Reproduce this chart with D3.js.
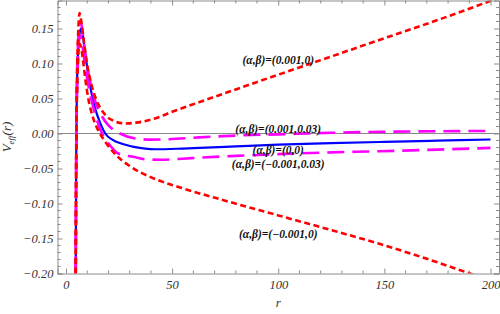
<!DOCTYPE html>
<html>
<head>
<meta charset="utf-8">
<script src="https://cdn.jsdelivr.net/npm/d3@7"></script>
<style>
  body { margin: 0; background: #fff; }
  svg { display: block; }
</style>
</head>
<body>
<div id="chart"></div>
<script>
// values
const rBlue  = [4.6, 4.8, 5.0, 5.3, 5.7, 6.3, 7.0, 7.8, 9, 10.5, 12, 14, 16, 18.5, 22, 26, 32, 42, 55, 63, 80, 100, 125, 150, 175, 200];
const vBlue  = [-0.2, -0.04, 0.03, 0.085, 0.118, 0.14, 0.150, 0.143, 0.115, 0.085, 0.058, 0.033, 0.016, 0.0, -0.009, -0.0143, -0.019, -0.0225, -0.0215, -0.0206, -0.0185, -0.016, -0.0138, -0.012, -0.0102, -0.0086];

const rRedUp = [4.6, 4.8, 5.0, 5.3, 5.7, 6.4, 7.2, 8.5, 10, 12, 14, 16.5, 19, 23, 28, 33, 42, 50, 63, 80, 100, 125, 147, 175, 204];
const vRedUp = [-0.2, -0.03, 0.04, 0.1, 0.14, 0.172, 0.16, 0.13, 0.098, 0.07, 0.05, 0.035, 0.025, 0.0175, 0.0143, 0.0155, 0.0215, 0.031, 0.045, 0.063, 0.084, 0.11, 0.133, 0.162, 0.194];

const rMagUp = [4.6, 4.8, 5.0, 5.3, 5.7, 6.5, 7.3, 8.5, 10, 12, 14, 16.5, 19.9, 22.5, 25.4, 32.5, 40, 48, 63, 80, 100, 125, 150, 175, 200];
const vMagUp = [-0.2, -0.035, 0.035, 0.095, 0.13, 0.16, 0.155, 0.128, 0.095, 0.066, 0.044, 0.027, 0.012, 0.005, 0.0, -0.0071, -0.0088, -0.0082, -0.0055, -0.003, -0.0012, 0.001, 0.0025, 0.0032, 0.0037];

const rMagLo = [4.6, 4.8, 5.0, 5.3, 5.7, 6.5, 7.3, 8.5, 10, 12, 14, 17, 20.7, 24.6, 31.7, 38, 45, 55, 63, 80, 100, 125, 148, 175, 200];
const vMagLo = [-0.2, -0.045, 0.025, 0.075, 0.11, 0.14, 0.135, 0.108, 0.078, 0.048, 0.025, 0.0, -0.0167, -0.0286, -0.0333, -0.037, -0.0375, -0.036, -0.0345, -0.032, -0.0295, -0.027, -0.0253, -0.023, -0.0206];

const rRedLo = [4.6, 4.8, 5.0, 5.3, 5.7, 6.3, 7.0, 8.0, 9, 10.5, 12.5, 14, 16, 19, 23, 29.3, 40.4, 53.7, 75, 100, 125, 148, 170, 190.3, 204];
const vRedLo = [-0.2, -0.05, 0.02, 0.07, 0.105, 0.128, 0.125, 0.105, 0.08, 0.05, 0.025, 0.012, 0.0, -0.014, -0.029, -0.045, -0.063, -0.077, -0.096, -0.117, -0.138, -0.158, -0.179, -0.2, -0.214];

const labelTexts = ["(α,β)=(0.001,0)", "(α,β)=(0.001,0.03)", "(α,β)=(0,0)", "(α,β)=(−0.001,0.03)", "(α,β)=(−0.001,0)"];
const labelR = [100, 100, 100, 100, 100];
const labelV = [0.1047, 0.0071, -0.0229, -0.0429, -0.1429];

const xMajor = [0, 50, 100, 150, 200];
const yMajor = [-0.20, -0.15, -0.10, -0.05, 0.00, 0.05, 0.10, 0.15];

const W = 500, H = 314;
const pLeft = 57.5, pRight = 499, pTop = 0.5, pBottom = 273.5;

const svg = d3.select("#chart").append("svg")
  .attr("width", W)
  .attr("height", H);

const x = d3.scaleLinear().domain([-4, 204]).range([pLeft, pRight]);
const y = d3.scaleLinear().domain([-0.2, 0.19]).range([pBottom, pTop]);

svg.append("clipPath").attr("id", "clip")
  .append("rect")
  .attr("x", pLeft).attr("y", pTop)
  .attr("width", pRight - pLeft).attr("height", pBottom - pTop);

// zero axis
svg.append("line")
  .attr("x1", pLeft).attr("x2", pRight)
  .attr("y1", y(0)).attr("y2", y(0))
  .attr("stroke", "#888").attr("stroke-width", 1.2);

const line = d3.line()
  .x(d => x(d[0]))
  .y(d => y(d[1]))
  .curve(d3.curveMonotoneX);

const series = [
  { r: rBlue, v: vBlue, color: "#0000ff", dash: null, w: 2.2 },
  { r: rMagUp, v: vMagUp, color: "#ff00ff", dash: "17,8", w: 2.6 },
  { r: rMagLo, v: vMagLo, color: "#ff00ff", dash: "17,8", w: 2.6 },
  { r: rRedUp, v: vRedUp, color: "#ff0000", dash: "6,3.5", w: 2.6 },
  { r: rRedLo, v: vRedLo, color: "#ff0000", dash: "6,3.5", w: 2.6 }
];

const plot = svg.append("g").attr("clip-path", "url(#clip)");
series.forEach(s => {
  plot.append("path")
    .datum(d3.zip(s.r, s.v))
    .attr("fill", "none")
    .attr("stroke", s.color)
    .attr("stroke-width", s.w)
    .attr("stroke-dasharray", s.dash)
    .attr("d", line);
});

// frame with inward ticks on all four sides
const frameColor = "#8c8c8c";
const tickFont = "'Liberation Serif', 'Times New Roman', serif";

const xAxisB = d3.axisBottom(x).tickValues(xMajor).tickSize(-5).tickPadding(7).tickFormat(d3.format("d"));
const xMinor = d3.range(0, 201, 10).filter(d => d % 50 !== 0);
const yMinor = d3.range(-20, 19).map(d => d / 100).filter(d => Math.abs(Math.round(d * 100)) % 5 !== 0);

const gB = svg.append("g").attr("transform", `translate(0,${pBottom})`).call(xAxisB);
const gT = svg.append("g").attr("transform", `translate(0,${pTop})`)
  .call(d3.axisTop(x).tickValues(xMajor).tickSize(-5).tickFormat(""));
const yFmt = d => (d < 0 ? "\u2212" : "") + d3.format(".2f")(Math.abs(d));
const gL = svg.append("g").attr("transform", `translate(${pLeft},0)`)
  .call(d3.axisLeft(y).tickValues(yMajor).tickSize(-5).tickPadding(4).tickFormat(yFmt));
const gR = svg.append("g").attr("transform", `translate(${pRight},0)`)
  .call(d3.axisRight(y).tickValues(yMajor).tickSize(-5).tickFormat(""));

[gB, gT, gL, gR].forEach(g => {
  g.select(".domain").attr("stroke", frameColor);
  g.selectAll(".tick line").attr("stroke", frameColor);
  g.selectAll("text")
    .attr("fill", "#333")
    .style("font-family", tickFont)
    .style("font-style", "italic")
    .style("font-size", "12.5px");
});

// minor ticks
xMinor.forEach(d => {
  svg.append("line").attr("x1", x(d)).attr("x2", x(d)).attr("y1", pBottom).attr("y2", pBottom - 3)
    .attr("stroke", frameColor);
  svg.append("line").attr("x1", x(d)).attr("x2", x(d)).attr("y1", pTop).attr("y2", pTop + 3)
    .attr("stroke", frameColor);
});
yMinor.forEach(d => {
  svg.append("line").attr("x1", pLeft).attr("x2", pLeft + 3).attr("y1", y(d)).attr("y2", y(d))
    .attr("stroke", frameColor);
  svg.append("line").attr("x1", pRight).attr("x2", pRight - 3).attr("y1", y(d)).attr("y2", y(d))
    .attr("stroke", frameColor);
});

// curve labels
labelTexts.forEach((t, i) => {
  svg.append("text")
    .attr("x", x(labelR[i]))
    .attr("y", y(labelV[i]))
    .attr("text-anchor", "middle")
    .attr("dominant-baseline", "central")
    .style("font-family", tickFont)
    .style("font-style", "italic")
    .style("font-weight", "bold")
    .style("font-size", "11.5px")
    .attr("fill", "#111")
    .text(t);
});

// axis titles
svg.append("text")
  .attr("x", (pLeft + pRight) / 2)
  .attr("y", 307)
  .attr("text-anchor", "middle")
  .style("font-family", tickFont)
  .style("font-style", "italic")
  .style("font-size", "13px")
  .attr("fill", "#333")
  .text("r");

const yTitle = svg.append("text")
  .attr("transform", `translate(11,${(pTop + pBottom) / 2}) rotate(-90)`)
  .attr("text-anchor", "middle")
  .style("font-family", tickFont)
  .style("font-style", "italic")
  .style("font-size", "13px")
  .attr("fill", "#333");
yTitle.append("tspan").text("V");
yTitle.append("tspan").attr("dy", 3).style("font-size", "9px").text("eff");
yTitle.append("tspan").attr("dy", -3).text("(r)");
</script>
</body>
</html>
